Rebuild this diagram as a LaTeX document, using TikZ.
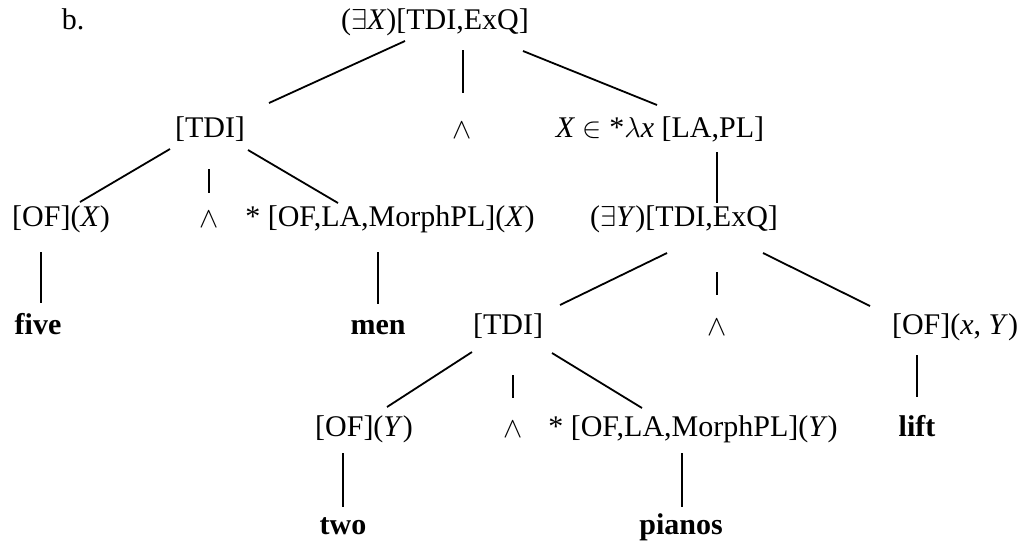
\documentclass[tikz,border=0pt]{standalone}
\usepackage{fontspec}
\setmainfont{Liberation Serif}
\begin{document}
\begin{tikzpicture}[x=0.5pt,y=-0.5pt,
  lbl/.style={anchor=base,inner sep=0pt,font=\fontsize{15}{18}\selectfont},
  wrd/.style={lbl,font=\fontsize{15}{18}\selectfont\bfseries},
  edge/.style={line width=0.9pt}]
\useasboundingbox (0,0) rectangle (1020,542);
\node[lbl] (b) at (73,29) {b.};
\node[lbl] (root) at (435,29) {($\exists$\textit{X})[TDI,ExQ]};
\node[lbl] (tdi1) at (210,137) {[TDI]};
\node[lbl] (and1) at (462,138) {$\wedge$};
\node[lbl] (xin) at (660,137) {\textit{X} $\in$ *$\lambda$\textit{x} [LA,PL]};
\node[lbl] (ofx) at (61,226) {[OF](\textit{X})};
\node[lbl] (and2) at (209,227) {$\wedge$};
\node[lbl] (mpx) at (390,226) {* [OF,LA,MorphPL](\textit{X})};
\node[lbl] (ey) at (684,226) {($\exists$\textit{Y})[TDI,ExQ]};
\node[wrd] (five) at (38,334) {five};
\node[wrd] (men) at (378,334) {men};
\node[lbl] (tdi2) at (508,334) {[TDI]};
\node[lbl] (and3) at (717,335) {$\wedge$};
\node[lbl] (ofxy) at (955,334) {[OF](\textit{x}, \textit{Y})};
\node[lbl] (ofy) at (364,436) {[OF](\textit{Y})};
\node[lbl] (and4) at (513,437) {$\wedge$};
\node[lbl] (mpy) at (693,436) {* [OF,LA,MorphPL](\textit{Y})};
\node[wrd] (lift) at (917,436) {lift};
\node[wrd] (two) at (343,534) {two};
\node[wrd] (pianos) at (681,534) {pianos};
\begin{scope}[edge]
\draw ([shift={(-30,12)}]root.base) -- ([shift={(59,-34)}]tdi1.base);
\draw ([shift={(28,21)}]root.base) -- ([shift={(1,-45)}]and1.base);
\draw ([shift={(88,22)}]root.base) -- ([shift={(-3,-32)}]xin.base);
\draw ([shift={(-40,12)}]tdi1.base) -- ([shift={(19,-24)}]ofx.base);
\draw ([shift={(-1,32)}]tdi1.base) -- ([shift={(0,-34)}]and2.base);
\draw ([shift={(38,13)}]tdi1.base) -- ([shift={(-52,-23)}]mpx.base);
\draw ([shift={(-20,26)}]ofx.base) -- ([shift={(3,-31)}]five.base);
\draw ([shift={(-12,26)}]mpx.base) -- ([shift={(0,-30)}]men.base);
\draw ([shift={(57,15)}]xin.base) -- ([shift={(33,-23)}]ey.base);
\draw ([shift={(-17,27)}]ey.base) -- ([shift={(52,-29)}]tdi2.base);
\draw ([shift={(33,46)}]ey.base) -- ([shift={(0,-40)}]and3.base);
\draw ([shift={(79,27)}]ey.base) -- ([shift={(-85,-28)}]ofxy.base);
\draw ([shift={(-36,18)}]tdi2.base) -- ([shift={(23,-29)}]ofy.base);
\draw ([shift={(5,41)}]tdi2.base) -- ([shift={(0,-39)}]and4.base);
\draw ([shift={(44,19)}]tdi2.base) -- ([shift={(-51,-28)}]mpy.base);
\draw ([shift={(-21,17)}]ofy.base) -- ([shift={(0,-27)}]two.base);
\draw ([shift={(-11,17)}]mpy.base) -- ([shift={(1,-27)}]pianos.base);
\draw ([shift={(-38,21)}]ofxy.base) -- ([shift={(0,-39)}]lift.base);
\end{scope}
\end{tikzpicture}
\end{document}
